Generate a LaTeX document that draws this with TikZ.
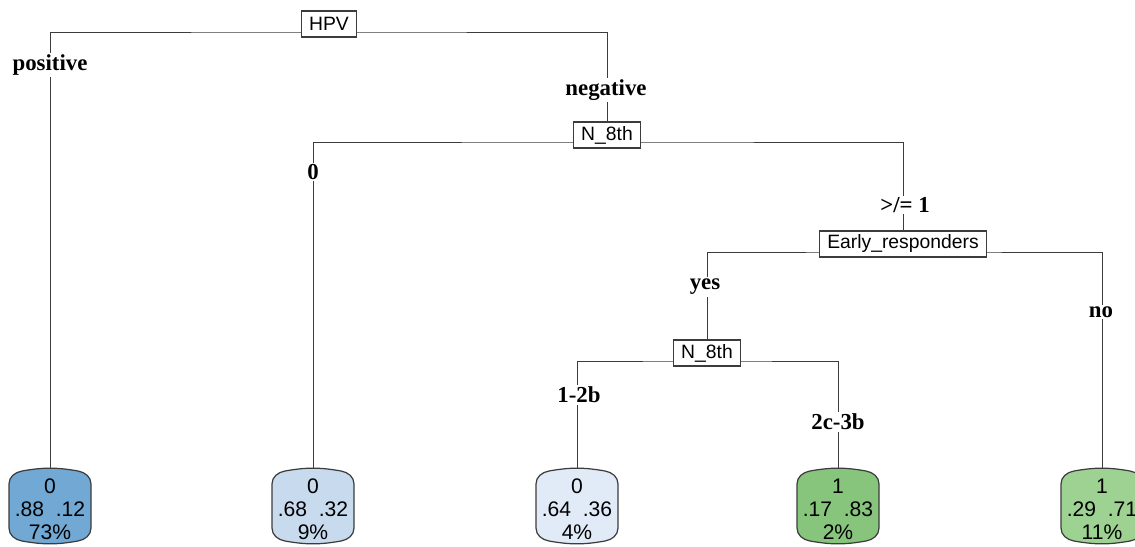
\documentclass[tikz,border=0pt]{standalone}
\usepackage{fontspec}
\setmainfont{Liberation Serif}
\setsansfont{Liberation Sans}
\usetikzlibrary{calc, positioning, backgrounds}
\definecolor{leafA}{RGB}{113, 168, 212}
\definecolor{leafB}{RGB}{200, 218, 238}
\definecolor{leafC}{RGB}{224, 235, 247}
\definecolor{leafD}{RGB}{135, 197, 125}
\definecolor{leafE}{RGB}{158, 210, 146}
\definecolor{edgegray}{RGB}{60, 60, 60}

% leaf outline: rounded box with slightly bulged top and bottom
\newcommand{\leafshape}[2]{%
  \filldraw[draw=edgegray, fill=#2, line width=0.7pt]
    ($(#1.center)+(-41,-25)$) to[out=90,in=190] ++(13,-13)
    to[out=10,in=170] ++(56,0) to[out=-10,in=90] ++(13,13)
    -- ++(0,44) to[out=-90,in=10] ++(-13,13)
    to[out=190,in=-10] ++(-56,0) to[out=170,in=-90] ++(-13,-13) -- cycle;}

\begin{document}
\begin{tikzpicture}[x=0.02cm, y=-0.02cm, line width=0.6pt,
    split/.style={draw=edgegray, fill=white, line width=0.8pt,
      font=\sffamily\fontsize{11}{13}\selectfont,
      inner xsep=4.5pt, inner ysep=0pt, minimum height=15pt},
    leaf/.style={align=center, inner sep=0pt, minimum width=1.64cm,
      minimum height=1.44cm, font=\sffamily\fontsize{12}{13.2}\selectfont},
    branch/.style={fill=white, inner sep=1pt,
      font=\bfseries\fontsize{13}{15}\selectfont}]
    \useasboundingbox (0,0) rectangle (1135,547);
    \clip (0,0) rectangle (1135,547);

    % splits
    \node[split] (hpv) at (329,24) {HPV};
    \node[split] (n8a) at (607,135) {N\_8th};
    \node[split] (early) at (903,244) {Early\_responders};
    \node[split] (n8b) at (707,353) {N\_8th};

    % leaves
    \node[leaf] (l1) at (50,509) {0\\.88~~.12\\73\%};
    \node[leaf] (l2) at (313,509) {0\\.68~~.32\\9\%};
    \node[leaf] (l3) at (577,509) {0\\.64~~.36\\4\%};
    \node[leaf] (l4) at (838,509) {1\\.17~~.83\\2\%};
    \node[leaf] (l5) at (1102,509) {1\\.29~~.71\\11\%};

    % branch labels
    \node[branch] (pos) at (50,65) {positive};
    \node[branch] (neg) at (606,90) {negative};
    \node[branch] (zero) at (313,172) {0};
    \node[branch] (geone) at (905,205) {>/= 1};
    \node[branch] (yes) at (705,287) {yes};
    \node[branch] (no) at (1101,312) {no};
    \node[branch] (early12) at (579,395) {1-2b};
    \node[branch] (late23) at (838,422) {2c-3b};

    \coordinate (hpvbar) at ($(hpv)+(0,8)$);
    \coordinate (n8abar) at ($(n8a)+(0,7)$);
    \coordinate (earlybar) at ($(early)+(0,8)$);
    \coordinate (n8bbar) at ($(n8b)+(0,8)$);

    \begin{scope}[on background layer]
        \draw[edgegray] (l1) |- (hpvbar) -| (n8a);
        \draw[edgegray] (l2) |- (n8abar) -| (early);
        \draw[edgegray] (n8b) |- (earlybar) -| (l5);
        \draw[edgegray] (l3) |- (n8bbar) -| (l4);
        \leafshape{l1}{leafA}
        \leafshape{l2}{leafB}
        \leafshape{l3}{leafC}
        \leafshape{l4}{leafD}
        \leafshape{l5}{leafE}
    \end{scope}
\end{tikzpicture}
\end{document}
